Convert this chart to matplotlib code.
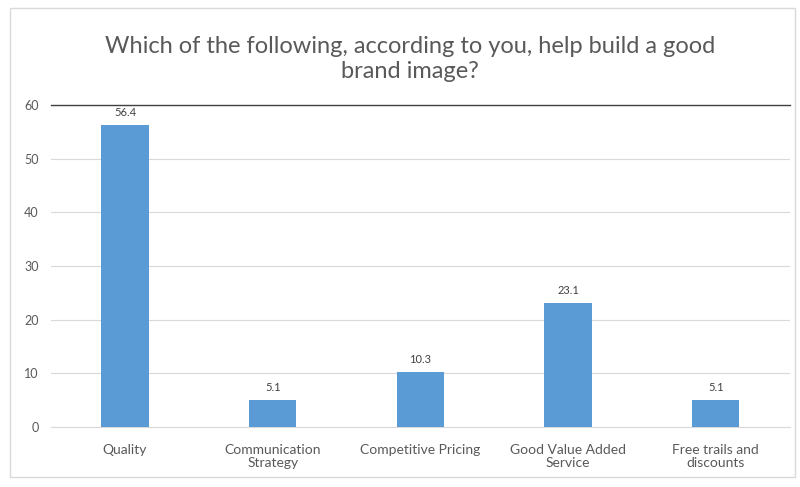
import matplotlib.pyplot as plt
from matplotlib.patches import Rectangle

categories = ["Quality", "Communication\nStrategy", "Competitive Pricing",
              "Good Value Added\nService", "Free trails and\ndiscounts"]
values = [56.4, 5.1, 10.3, 23.1, 5.1]
yticks = [0, 10, 20, 30, 40, 50, 60]

plt.rcParams['font.family'] = ['Lato', 'DejaVu Sans']

fig = plt.figure(figsize=(8, 4.87), dpi=100)
ax = fig.add_axes([0.064, 0.123, 0.923, 0.661])

x = range(len(categories))
bars = ax.bar(x, values, width=0.32, color="#5B9BD5", zorder=3)
for b, v in zip(bars, values):
    ax.text(b.get_x() + b.get_width() / 2, v + 1.3, f"{v}", ha="center", va="bottom",
            fontsize=8, color="#404040", zorder=4)

ax.set_xlim(-0.5, len(categories) - 0.5)
ax.set_ylim(0, 60)
ax.set_yticks(yticks)
ax.set_xticks(list(x))
ax.set_xticklabels(categories, fontsize=10, color="#595959", linespacing=1.1)
ax.tick_params(axis="y", labelsize=9, labelcolor="#595959", length=0, pad=9)
ax.tick_params(axis="x", length=0, pad=12)
ax.grid(axis="y", color="#D9D9D9", linewidth=0.8, zorder=0)
for side in ["left", "right"]:
    ax.spines[side].set_visible(False)
ax.spines["top"].set_color("#404040")
ax.spines["top"].set_linewidth(1.0)
ax.spines["bottom"].set_color("#D9D9D9")

fig.text(0.5125, 0.879, "Which of the following, according to you, help build a good\nbrand image?",
         ha="center", va="center", fontsize=17, color="#595959", linespacing=1.25)

fig.patches.append(Rectangle((0.012, 0.02), 0.982, 0.963, transform=fig.transFigure,
                             fill=False, edgecolor="#D9D9D9", linewidth=1))

fig.savefig("out.png", dpi=100)
